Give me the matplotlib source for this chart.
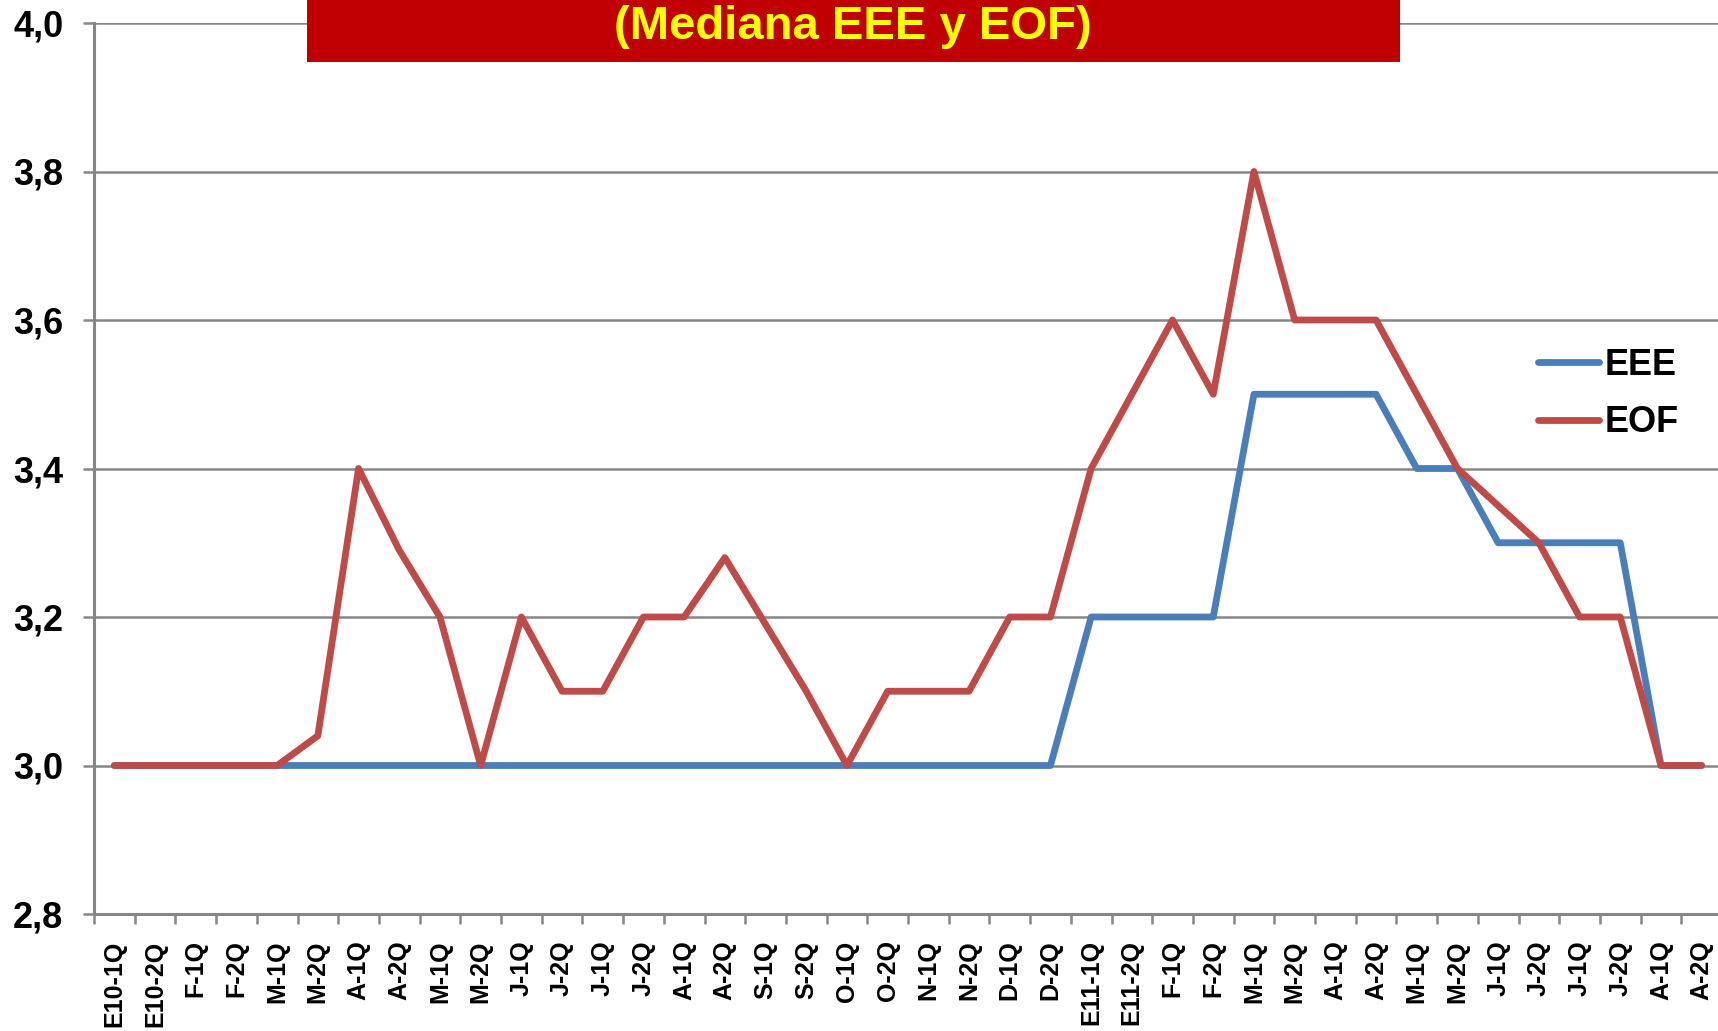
import matplotlib
matplotlib.use("Agg")
import matplotlib.pyplot as plt
from matplotlib.patches import Rectangle
import numpy as np

plt.rcParams['font.family'] = ['Liberation Sans', 'DejaVu Sans']

categories = ["E10-1Q", "E10-2Q", "F-1Q", "F-2Q", "M-1Q", "M-2Q", "A-1Q", "A-2Q",
              "M-1Q", "M-2Q", "J-1Q", "J-2Q", "J-1Q", "J-2Q", "A-1Q", "A-2Q",
              "S-1Q", "S-2Q", "O-1Q", "O-2Q", "N-1Q", "N-2Q", "D-1Q", "D-2Q",
              "E11-1Q", "E11-2Q", "F-1Q", "F-2Q", "M-1Q", "M-2Q", "A-1Q", "A-2Q",
              "M-1Q", "M-2Q", "J-1Q", "J-2Q", "J-1Q", "J-2Q", "A-1Q", "A-2Q"]

eee = [3.0, 3.0, 3.0, 3.0, 3.0, 3.0, 3.0, 3.0,
       3.0, 3.0, 3.0, 3.0, 3.0, 3.0, 3.0, 3.0,
       3.0, 3.0, 3.0, 3.0, 3.0, 3.0, 3.0, 3.0,
       3.2, 3.2, 3.2, 3.2, 3.5, 3.5, 3.5, 3.5,
       3.4, 3.4, 3.3, 3.3, 3.3, 3.3, 3.0, 3.0]

eof = [3.0, 3.0, 3.0, 3.0, 3.0, 3.04, 3.4, 3.29,
       3.2, 3.0, 3.2, 3.1, 3.1, 3.2, 3.2, 3.28,
       3.19, 3.1, 3.0, 3.1, 3.1, 3.1, 3.2, 3.2,
       3.4, 3.5, 3.6, 3.5, 3.8, 3.6, 3.6, 3.6,
       3.5, 3.4, 3.35, 3.3, 3.2, 3.2, 3.0, 3.0]

title_text = "(Mediana EEE y EOF)"
yticks = [2.8, 3.0, 3.2, 3.4, 3.6, 3.8, 4.0]
ytick_labels = ["2,8", "3,0", "3,2", "3,4", "3,6", "3,8", "4,0"]

W, H = 1718, 1031
fig = plt.figure(figsize=(W / 100, H / 100), dpi=100)
ax = fig.add_axes([94 / W, 1 - 914 / H, (1722 - 94) / W, (914 - 23) / H])

grid_col = "#868686"
x = np.arange(len(categories))
ax.plot(x, eee, color="#4A7EBB", lw=4.9, label="EEE", solid_joinstyle="round",
        solid_capstyle="round", zorder=3, clip_on=False)
ax.plot(x, eof, color="#BE4B48", lw=4.9, label="EOF", solid_joinstyle="round",
        solid_capstyle="round", zorder=4, clip_on=False)

ax.set_xlim(-0.5, len(categories) - 0.5)
ax.set_ylim(2.8, 4.0)
ax.set_yticks(yticks)
ax.set_yticklabels(ytick_labels, fontsize=26, fontweight="bold")
ax.set_xticks(x)
ax.set_xticklabels(categories, rotation=90, fontsize=18, fontweight="bold")
ax.set_xticks(np.arange(len(categories) + 1) - 0.5, minor=True)
ax.tick_params(axis="x", which="major", length=0, pad=19)
ax.tick_params(axis="x", which="minor", length=7, width=1.8, color=grid_col, direction="out")
ax.tick_params(axis="y", which="major", length=8, width=1.8, color=grid_col, pad=14)

ax.yaxis.grid(True, color=grid_col, lw=1.8)
ax.set_axisbelow(True)
for s in ["top", "right"]:
    ax.spines[s].set_visible(False)
for s in ["left", "bottom"]:
    ax.spines[s].set_color(grid_col)
    ax.spines[s].set_linewidth(2.2)

leg = ax.legend(loc="center left", bbox_to_anchor=(1538 / W, 1 - 394 / H),
                bbox_transform=fig.transFigure, frameon=False,
                prop={"size": 26, "weight": "bold"}, handlelength=1.7,
                handletextpad=0.15, labelspacing=0.62, borderpad=0, borderaxespad=0)
for line in leg.get_lines():
    line.set_linewidth(4.9)

rect = Rectangle((307 / W, 1 - 62 / H), (1400 - 307) / W, 62 / H + 0.01,
                 transform=fig.transFigure, facecolor="#C00000", edgecolor="none", zorder=10)
fig.add_artist(rect)
fig.text(853 / W, 1 - 27 / H, title_text, ha="center", va="center", fontsize=34,
         fontweight="bold", color="#FFFF00", zorder=11)

fig.savefig("out.png", dpi=100)
